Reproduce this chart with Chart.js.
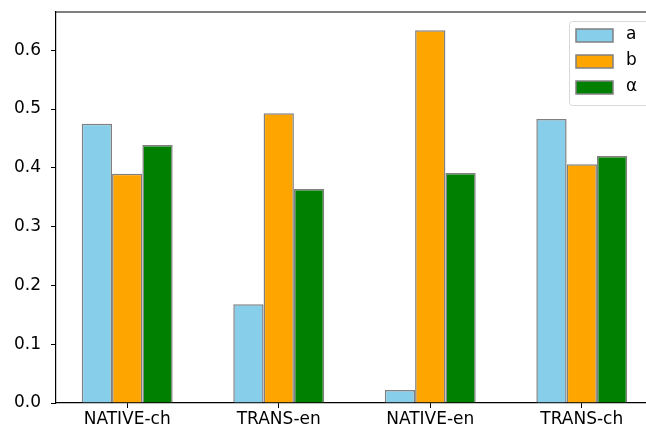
<!DOCTYPE html>
<html>
<head>
<meta charset="utf-8">
<script src="https://cdn.jsdelivr.net/npm/chart.js@4"></script>
<style>
  html, body { margin: 0; padding: 0; background: #fff; overflow: hidden; width: 646px; height: 432px; }
  #wrap { width: 646px; height: 432px; overflow: hidden; }
</style>
</head>
<body>
<div id="wrap"><canvas id="chart" width="653" height="432"></canvas></div>
<script>
// data
const categories = ['NATIVE-ch', 'TRANS-en', 'NATIVE-en', 'TRANS-ch'];
const seriesNames = ['a', 'b', 'α'];
const valuesA = [0.475, 0.168, 0.022, 0.483];
const valuesB = [0.390, 0.493, 0.634, 0.406];
const valuesAlpha = [0.439, 0.364, 0.391, 0.420];
const yTicks = [0.0, 0.1, 0.2, 0.3, 0.4, 0.5, 0.6];

const colors = ['#87CEEB', '#FFA500', '#008000'];
const edge = '#808080';
const font = { family: 'DejaVu Sans', size: 17 };

function toPoints(vals) {
  return vals.map((v, i) => ({ x: i, y: v }));
}

// top spine (right side falls outside the picture)
const topSpine = {
  id: 'topSpine',
  afterDraw(chart) {
    const ctx = chart.ctx;
    const a = chart.chartArea;
    ctx.save();
    ctx.strokeStyle = '#000';
    ctx.lineWidth = 1.2;
    ctx.beginPath();
    ctx.moveTo(a.left, a.top);
    ctx.lineTo(a.right, a.top);
    ctx.stroke();
    ctx.restore();
  }
};

// legend drawn inside the plot, upper right
const boxLegend = {
  id: 'boxLegend',
  afterDraw(chart) {
    const ctx = chart.ctx;
    const x0 = 569, y0 = 21, w = 84, h = 84;
    ctx.save();
    ctx.fillStyle = 'rgba(255,255,255,0.8)';
    ctx.strokeStyle = '#d9d9d9';
    ctx.lineWidth = 1;
    ctx.beginPath();
    ctx.roundRect(x0 + 0.5, y0 + 0.5, w, h, 3);
    ctx.fill();
    ctx.stroke();
    chart.data.datasets.forEach((ds, i) => {
      const sy = 29 + i * 26;
      ctx.fillStyle = ds.backgroundColor;
      ctx.fillRect(576, sy, 37, 13);
      ctx.strokeStyle = edge;
      ctx.lineWidth = 1.5;
      ctx.strokeRect(576, sy, 37, 13);
      ctx.fillStyle = '#000';
      ctx.font = '17px "DejaVu Sans"';
      ctx.textBaseline = 'middle';
      ctx.textAlign = 'left';
      ctx.fillText(ds.label, 626, sy + 6);
    });
    ctx.restore();
  }
};

new Chart(document.getElementById('chart'), {
  type: 'bar',
  data: {
    datasets: [
      { label: seriesNames[0], data: toPoints(valuesA), backgroundColor: colors[0] },
      { label: seriesNames[1], data: toPoints(valuesB), backgroundColor: colors[1] },
      { label: seriesNames[2], data: toPoints(valuesAlpha), backgroundColor: colors[2] }
    ]
  },
  options: {
    responsive: false,
    animation: false,
    layout: { padding: { top: 12, right: 0, left: 0, bottom: 0 } },
    datasets: {
      bar: {
        borderColor: edge,
        borderWidth: 1.5,
        categoryPercentage: 0.6,
        barPercentage: 1.0,
        grouped: true
      }
    },
    plugins: {
      legend: { display: false },
      tooltip: { enabled: false }
    },
    scales: {
      x: {
        type: 'linear',
        min: -0.47,
        max: 3.47,
        offset: false,
        afterBuildTicks: scale => {
          scale.ticks = categories.map((c, i) => ({ value: i }));
        },
        afterFit: scale => {
          scale.height = 29;
          scale.paddingLeft = 0;
          scale.paddingRight = 0;
        },
        ticks: {
          color: '#000',
          font: font,
          padding: 1,
          maxRotation: 0,
          autoSkip: false,
          callback: v => categories[v]
        },
        grid: { offset: false, drawOnChartArea: false, tickLength: 5, tickColor: '#000', tickWidth: 1 },
        border: { color: '#000', width: 1.2 }
      },
      y: {
        min: 0,
        max: 0.665,
        afterBuildTicks: scale => {
          scale.ticks = yTicks.map(v => ({ value: v }));
        },
        afterFit: scale => {
          scale.width = 56;
          scale.paddingTop = 0;
          scale.paddingBottom = 0;
        },
        ticks: {
          color: '#000',
          font: font,
          padding: 10,
          callback: v => v.toFixed(1)
        },
        grid: { drawOnChartArea: false, tickLength: 5, tickColor: '#000', tickWidth: 1 },
        border: { color: '#000', width: 1.2 }
      }
    }
  },
  plugins: [topSpine, boxLegend]
});
</script>
</body>
</html>
